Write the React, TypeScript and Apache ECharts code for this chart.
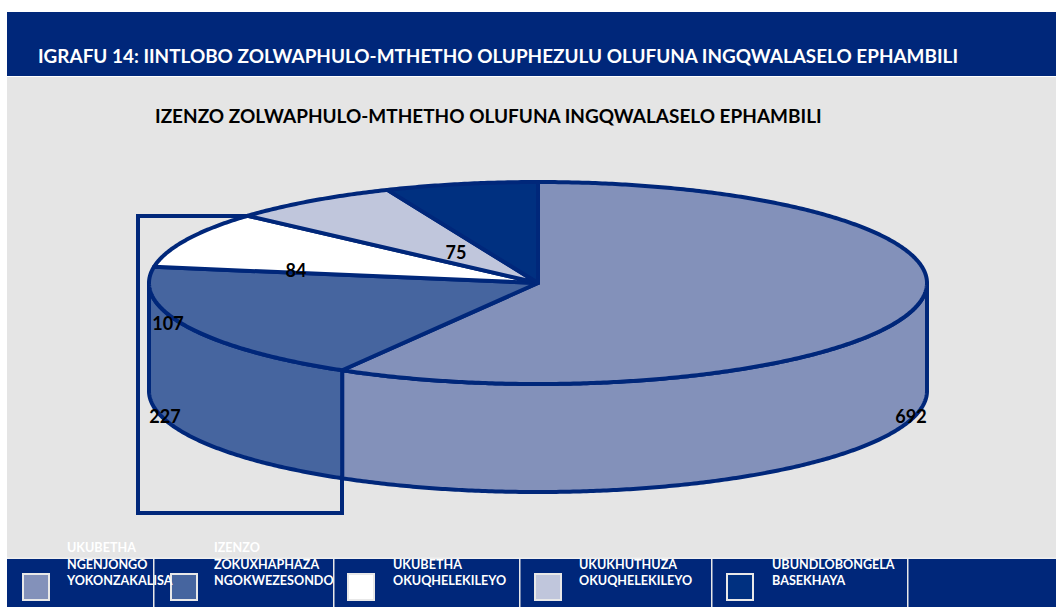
import React, { useEffect, useRef } from "react";
import * as echarts from "echarts";

const headerTitle = "IGRAFU 14: IINTLOBO ZOLWAPHULO-MTHETHO OLUPHEZULU OLUFUNA INGQWALASELO EPHAMBILI";
const chartTitle = "IZENZO ZOLWAPHULO-MTHETHO OLUFUNA INGQWALASELO EPHAMBILI";
const categories = [
  "UKUBETHA\nNGENJONGO\nYOKONZAKALISA",
  "IZENZO\nZOKUXHAPHAZA\nNGOKWEZESONDO",
  "UKUBETHA\nOKUQHELEKILEYO",
  "UKUKHUTHUZA\nOKUQHELEKILEYO",
  "UBUNDLOBONGELA\nBASEKHAYA",
];
const values = [692, 227, 107, 84, 75];
const colors = ["#8391BA", "#46659F", "#FFFFFF", "#C0C6DC", "#003080"];

const NAVY = "#00277A";
const CX = 538, CY = 283, RX = 389, RY = 101, DEPTH = 108;
const labelPos = [[911, 416], [165, 416], [168, 323], [296, 270], [456, 252]];
const legendX = [[22, 67], [170, 214], [347, 393], [534, 579], [726, 772]];
const legendBottomY = 580;
const separators = [153, 333, 519, 711, 907];
const FONT = "Lato";

const total = values.reduce((a, b) => a + b, 0);
const pt = (deg: number, dy = 0): number[] => {
  const r = (deg * Math.PI) / 180;
  return [CX + RX * Math.sin(r), CY - RY * Math.cos(r) + dy];
};
const arc = (from: number, to: number, dy = 0): number[][] => {
  const out: number[][] = [];
  const n = Math.max(2, Math.ceil((to - from) * 2));
  for (let i = 0; i <= n; i++) out.push(pt(from + ((to - from) * i) / n, dy));
  return out;
};

const renderSlice = (params: any, api: any) => {
  const i = params.dataIndex;
  let sum = 0;
  for (let k = 0; k < i; k++) sum += values[k];
  const start = (sum / total) * 360;
  const end = start + (api.value(0) / total) * 360;
  const children: any[] = [];
  const style = { fill: colors[i], stroke: NAVY, lineWidth: 4, lineJoin: "round" };
  const sFrom = Math.max(start, 90), sTo = Math.min(end, 270);
  if (sFrom < sTo) {
    const top = arc(sFrom, sTo);
    const bottom = arc(sFrom, sTo, DEPTH).reverse();
    children.push({ type: "polygon", shape: { points: [...top, ...bottom] }, style });
  }
  children.push({ type: "polygon", shape: { points: [[CX, CY], ...arc(start, end)] }, style });
  return { type: "group", children };
};

export default function App() {
  const ref = useRef<HTMLDivElement>(null);
  useEffect(() => {
    document.body.style.margin = "0";
    document.body.style.background = "#fff";
    const chart = echarts.init(ref.current!, null, { renderer: "svg" });
    const rect = (x: number, y: number, w: number, h: number, fill: string, z = 0, extra: any = {}) => ({
      type: "rect", z, shape: { x, y, width: w, height: h }, style: { fill, ...extra },
    });
    const text = (x: number, y: number, t: string, size: number, fill: string, z: number, scaleX = 1, align = "left", lh = 16.5) => ({
      type: "text", z, x, y, scaleX, originX: 0, originY: 0,
      style: { text: t, fill, font: `700 ${size}px ${FONT}`, textAlign: align, textVerticalAlign: "middle", lineHeight: lh },
    });
    const graphicEls: any[] = [
      rect(7, 12, 1049, 64, NAVY),
      rect(7, 77, 1049, 481, "#E5E5E5"),
      rect(7, 559, 1049, 48, NAVY),
      rect(138, 216, 204, 297, "none", 1, { stroke: NAVY, lineWidth: 4 }),
      text(38, 55, headerTitle, 19, "#FFFFFF", 20, 0.9957),
      text(155, 115, chartTitle, 19, "#000000", 20, 0.9985),
    ];
    separators.forEach((x) => graphicEls.push(rect(x, 559, 1.5, 48, "#E8E8E8", 5)));
    categories.forEach((c, i) => {
      const [sx, tx] = legendX[i];
      graphicEls.push(rect(sx + 1, 574, 26, 26, colors[i], 6, { stroke: "#E8E8E8", lineWidth: 2 }));
      const lines = c.split("\n");
      lines.forEach((ln, k) => {
        graphicEls.push(text(tx, legendBottomY - (lines.length - 1 - k) * 16.5, ln, 13, "#FFFFFF", 7, 0.97));
      });
    });
    graphicEls.push(rect(7, 557.5, 1049, 1.5, "#F0F0F0", 8));
    values.forEach((v, i) => {
      graphicEls.push(text(labelPos[i][0], labelPos[i][1], String(v), 18, "#000000", 30, 1, "center"));
    });
    chart.setOption({
      animation: false,
      backgroundColor: "#FFFFFF",
      tooltip: { show: false },
      graphic: { elements: graphicEls },
      series: [
        {
          type: "custom",
          name: "Izenzo",
          z: 10,
          silent: true,
          coordinateSystem: "none",
          renderItem: renderSlice,
          data: values.map((v, i) => ({ name: categories[i].replace(/\n/g, " "), value: [v] })),
        },
      ],
    });
    return () => chart.dispose();
  }, []);
  return <div ref={ref} style={{ width: 1056, height: 607 }} />;
}
